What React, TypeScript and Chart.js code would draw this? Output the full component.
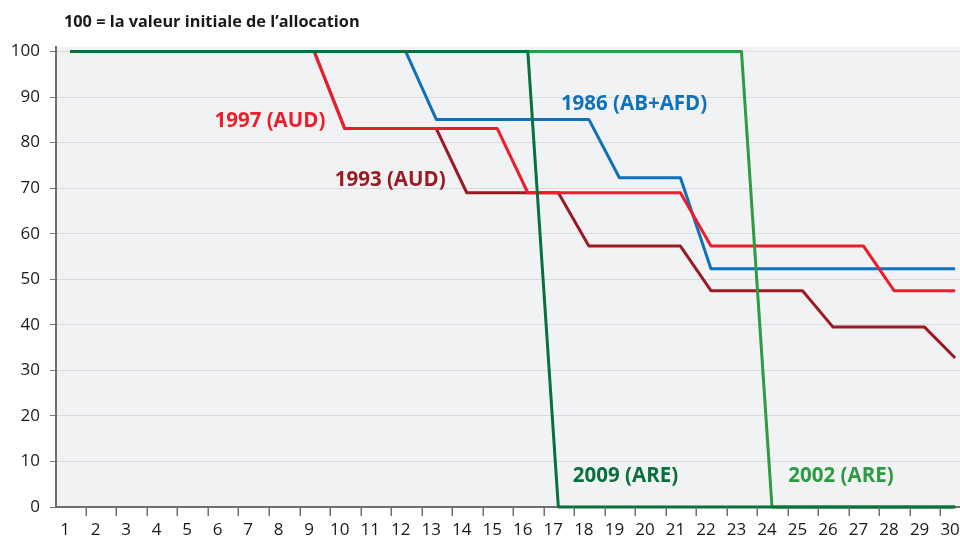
import React, { useEffect, useRef } from "react";
import { Chart, registerables } from "chart.js";

Chart.register(...registerables);

// ---- data ----
const months = [1, 2, 3, 4, 5, 6, 7, 8, 9, 10, 11, 12, 13, 14, 15, 16, 17, 18, 19, 20, 21, 22, 23, 24, 25, 26, 27, 28, 29, 30];
const yTicks = [0, 10, 20, 30, 40, 50, 60, 70, 80, 90, 100];

const s2009 = [100, 100, 100, 100, 100, 100, 100, 100, 100, 100, 100, 100, 100, 100, 100, 100, 0, 0, 0, 0, 0, 0, 0, 0, 0, 0, 0, 0, 0, 0];
const s2002 = [100, 100, 100, 100, 100, 100, 100, 100, 100, 100, 100, 100, 100, 100, 100, 100, 100, 100, 100, 100, 100, 100, 100, 0, 0, 0, 0, 0, 0, 0];
const s1997 = [100, 100, 100, 100, 100, 100, 100, 100, 100, 83.1, 83.1, 83.1, 83.1, 83.1, 83.1, 69, 69, 69, 69, 69, 69, 57.3, 57.3, 57.3, 57.3, 57.3, 57.3, 47.5, 47.5, 47.5];
const s1993 = [100, 100, 100, 100, 100, 100, 100, 100, 100, 83.1, 83.1, 83.1, 83.1, 69, 69, 69, 69, 57.3, 57.3, 57.3, 57.3, 47.5, 47.5, 47.5, 47.5, 39.5, 39.5, 39.5, 39.5, 32.7];
const s1986 = [100, 100, 100, 100, 100, 100, 100, 100, 100, 100, 100, 100, 85.1, 85.1, 85.1, 85.1, 85.1, 85.1, 72.3, 72.3, 72.3, 52.3, 52.3, 52.3, 52.3, 52.3, 52.3, 52.3, 52.3, 52.3];

const seriesNames = ["2009 (ARE)", "2002 (ARE)", "1997 (AUD)", "1993 (AUD)", "1986 (AB+AFD)"];
const seriesData = [s2009, s2002, s1997, s1993, s1986];
const seriesColors = ["#08703a", "#2e9a42", "#ee1d2b", "#9a1b22", "#0d72bb"];

// label anchors (data coordinates) for the in-chart series names
const labelAnchorX = [19.2, 26.26, 7.55, 11.49, 19.48];
const labelAnchorY = [6.7, 6.7, 84.8, 71.8, 88.5];

const titleText = "100 = la valeur initiale de l’allocation";

const FONT = "'Open Sans', 'Noto Sans', sans-serif";

export default function App() {
  const ref = useRef<HTMLCanvasElement | null>(null);

  useEffect(() => {
    if (!ref.current) return;
    const prev = document.body.style.margin;
    document.body.style.margin = "0";

    const bgPlugin = {
      id: "bgPlugin",
      beforeDraw(chart: any) {
        const { ctx, chartArea } = chart;
        ctx.save();
        ctx.fillStyle = "#f1f2f4";
        ctx.fillRect(chartArea.left, chartArea.top, chartArea.right - chartArea.left, chartArea.bottom - chartArea.top);
        ctx.restore();
      },
      afterDraw(chart: any) {
        const { ctx, chartArea } = chart;
        const xs = chart.scales.x;
        ctx.save();
        // x tick marks between months
        ctx.strokeStyle = "#6e6e6e";
        ctx.lineWidth = 1.5;
        for (let i = 0; i < months.length - 1; i++) {
          const px = Math.round(xs.getPixelForValue(months[i] + 0.52)) + 0.25;
          ctx.beginPath();
          ctx.moveTo(px, chartArea.bottom);
          ctx.lineTo(px, chartArea.bottom + 9);
          ctx.stroke();
        }
        // title
        ctx.fillStyle = "#1a1a1a";
        ctx.font = `bold 16.3px ${FONT}`;
        ctx.textAlign = "left";
        ctx.textBaseline = "middle";
        ctx.fillText(titleText, 64, 22);
        ctx.restore();
      },
      afterDatasetsDraw(chart: any) {
        const { ctx } = chart;
        const xs = chart.scales.x;
        const ys = chart.scales.y;
        ctx.save();
        ctx.font = `bold 20.5px ${FONT}`;
        ctx.textAlign = "center";
        ctx.textBaseline = "middle";
        seriesNames.forEach((name, i) => {
          ctx.fillStyle = seriesColors[i];
          ctx.fillText(name, xs.getPixelForValue(labelAnchorX[i]), ys.getPixelForValue(labelAnchorY[i]));
        });
        ctx.restore();
      },
    };

    const chart = new Chart(ref.current, {
      type: "line",
      data: {
        datasets: seriesNames.map((name, i) => ({
          label: name,
          data: months.map((m, j) => ({ x: m, y: seriesData[i][j] })),
          borderColor: seriesColors[i],
          backgroundColor: seriesColors[i],
          borderWidth: 3,
          pointRadius: 0,
          tension: 0,
          borderJoinStyle: "round" as const,
          clip: false as any,
        })),
      },
      options: {
        animation: false,
        responsive: false,
        layout: { padding: { top: 47, left: 0, right: 0, bottom: 0 } },
        plugins: {
          legend: { display: false },
          tooltip: { enabled: false },
          title: { display: false },
        },
        scales: {
          x: {
            type: "linear",
            min: 0.541,
            max: 30.16,
            afterBuildTicks: (s: any) => {
              s.ticks = months.map((v) => ({ value: v }));
            },
            afterFit: (s: any) => {
              s.paddingLeft = 0;
              s.paddingRight = 0;
              s.height = 29;
            },
            ticks: {
              autoSkip: false,
              maxRotation: 0,
              labelOffset: -5,
              padding: 5,
              color: "#1a1a1a",
              font: { family: FONT, size: 17 },
              callback: (v: any) => String(v),
            },
            grid: { display: false },
            border: { display: true, color: "#6e6e6e", width: 2 },
          },
          y: {
            type: "linear",
            min: 0,
            max: 101,
            afterBuildTicks: (s: any) => {
              s.ticks = yTicks.map((v) => ({ value: v }));
            },
            afterFit: (s: any) => {
              s.width = 56;
              s.paddingTop = 0;
              s.paddingBottom = 0;
            },
            ticks: {
              padding: 10,
              color: "#1a1a1a",
              font: { family: FONT, size: 17 },
              callback: (v: any) => String(v),
            },
            grid: { color: "#d9dadd", lineWidth: 1, tickLength: 6, tickColor: "#777777" },
            border: { display: true, color: "#6e6e6e", width: 2 },
          },
        },
      },
      plugins: [bgPlugin],
    });

    return () => {
      chart.destroy();
      document.body.style.margin = prev;
    };
  }, []);

  return (
    <div style={{ position: "absolute", left: 0, top: 0, width: 960, height: 536, background: "#ffffff" }}>
      <canvas ref={ref} width={960} height={536} style={{ display: "block" }} />
    </div>
  );
}
